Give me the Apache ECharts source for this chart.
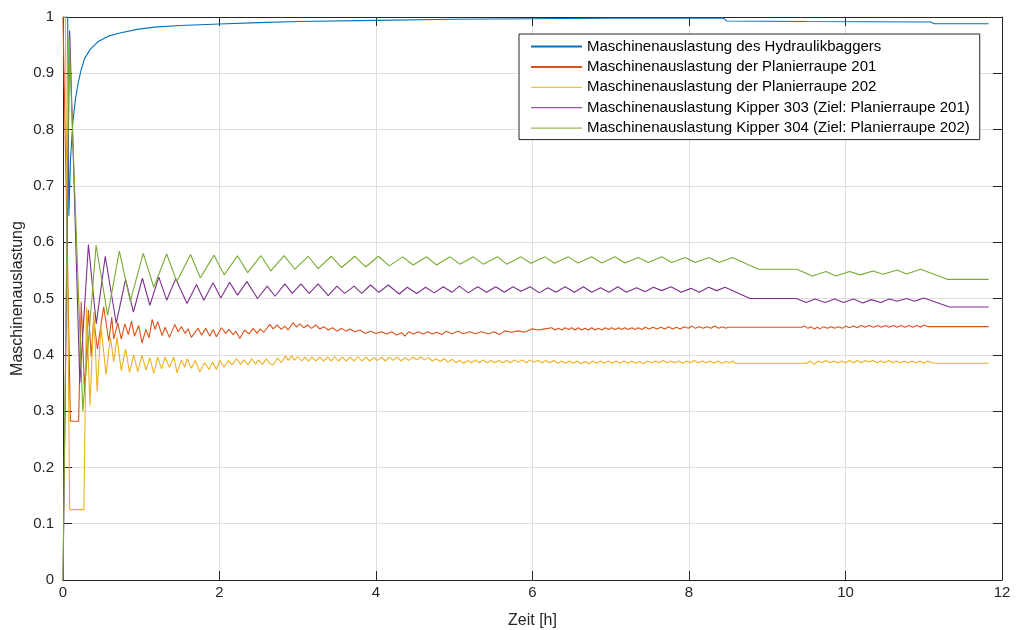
<!DOCTYPE html>
<html>
<head>
<meta charset="utf-8">
<script src="https://cdn.jsdelivr.net/npm/echarts@6/dist/echarts.min.js"></script>
<style>
html,body{margin:0;padding:0;background:#fff;}
#chart{width:1017px;height:630px;}
</style>
</head>
<body>
<div id="chart"></div>
<script>
// ---- data (hours, utilisation) ----
var seriesNames = [
  'Maschinenauslastung des Hydraulikbaggers',
  'Maschinenauslastung der Planierraupe 201',
  'Maschinenauslastung der Planierraupe 202',
  'Maschinenauslastung Kipper 303 (Ziel: Planierraupe 201)',
  'Maschinenauslastung Kipper 304 (Ziel: Planierraupe 202)'
];
var xTicks = [0, 2, 4, 6, 8, 10, 12];
var yTicks = [0, 0.1, 0.2, 0.3, 0.4, 0.5, 0.6, 0.7, 0.8, 0.9, 1];

var bagger = [[0,1],[0.06,1],[0.075,0.647],[0.097,0.75],[0.127,0.815],[0.16,0.855],[0.19,0.88],[0.23,0.905],[0.275,0.926],[0.35,0.943],[0.445,0.956],[0.58,0.966],[0.74,0.972],[0.95,0.978],[1.165,0.982],[1.5,0.985],[2.0,0.9875],[2.5,0.99],[3.0,0.992],[4.0,0.994],[5.0,0.996],[6.0,0.997],[7.0,0.998],[8.44,0.998],[8.48,0.993],[9.5,0.992],[11.09,0.991],[11.13,0.988],[11.83,0.988]];

var raupe201 = [[0,1],[0.025,1],[0.095,0.282],[0.2,0.282],[0.233,0.494],[0.275,0.335],[0.325,0.48],[0.36,0.397],[0.393,0.463],[0.44,0.41],[0.52,0.485],[0.585,0.424],[0.623,0.467],[0.648,0.428],[0.70,0.457],[0.745,0.428],[0.79,0.455],[0.835,0.436],[0.875,0.46],[0.913,0.433],[0.968,0.452],[1.01,0.421],[1.06,0.445],[1.10,0.43],[1.14,0.463],[1.176,0.445],[1.21,0.459],[1.266,0.434],[1.305,0.449],[1.36,0.431],[1.43,0.454],[1.47,0.441],[1.514,0.45],[1.56,0.438],[1.60,0.446],[1.64,0.431],[1.726,0.447],[1.77,0.435],[1.825,0.447],[1.876,0.433],[1.918,0.445],[1.96,0.432],[2.025,0.448],[2.08,0.438],[2.12,0.445],[2.175,0.436],[2.21,0.442],[2.26,0.429],[2.32,0.444],[2.375,0.437],[2.43,0.447],[2.48,0.438],[2.52,0.446],[2.566,0.44],[2.643,0.454],[2.686,0.446],[2.737,0.453],[2.79,0.445],[2.835,0.451],[2.878,0.444],[2.94,0.457],[2.985,0.449],[3.027,0.455],[3.078,0.448],[3.125,0.453],[3.176,0.447],[3.23,0.453],[3.28,0.446],[3.334,0.45],[3.39,0.444],[3.445,0.448],[3.50,0.442],[3.56,0.447],[3.615,0.442],[3.666,0.446],[3.73,0.441],[3.794,0.444],[3.858,0.438],[3.93,0.442],[4.0,0.438],[4.07,0.441],[4.136,0.437],[4.2,0.441],[4.263,0.435],[4.33,0.439],[4.37,0.433],[4.42,0.441],[4.476,0.437],[4.54,0.441],[4.6,0.437],[4.66,0.441],[4.72,0.437],[4.775,0.44],[4.84,0.436],[4.90,0.442],[4.967,0.4375],[5.05,0.442],[5.115,0.4375],[5.20,0.441],[5.265,0.4375],[5.35,0.441],[5.435,0.4375],[5.51,0.441],[5.575,0.436],[5.648,0.4425],[5.73,0.44],[5.82,0.4425],[5.895,0.44],[5.99,0.446],[6.074,0.444],[6.16,0.446],[6.245,0.448],[6.29,0.444],[6.33,0.447],[6.375,0.444],[6.415,0.448],[6.46,0.445],[6.50,0.448],[6.545,0.444],[6.585,0.448],[6.63,0.444],[6.67,0.447],[6.715,0.444],[6.757,0.448],[6.80,0.444],[6.84,0.447],[6.885,0.444],[6.93,0.448],[6.97,0.445],[7.01,0.448],[7.055,0.445],[7.10,0.448],[7.14,0.445],[7.18,0.448],[7.225,0.445],[7.27,0.448],[7.31,0.445],[7.35,0.448],[7.40,0.445],[7.44,0.449],[7.49,0.446],[7.54,0.449],[7.59,0.446],[7.64,0.449],[7.69,0.446],[7.74,0.45],[7.79,0.446],[7.84,0.449],[7.886,0.446],[7.94,0.45],[7.99,0.447],[8.036,0.451],[8.08,0.447],[8.13,0.45],[8.18,0.447],[8.23,0.45],[8.28,0.447],[8.33,0.451],[8.376,0.447],[8.43,0.45],[8.47,0.447],[8.50,0.449],[9.44,0.449],[9.48,0.451],[9.52,0.447],[9.56,0.45],[9.60,0.446],[9.64,0.449],[9.675,0.446],[9.72,0.45],[9.77,0.447],[9.82,0.45],[9.86,0.447],[9.91,0.45],[9.96,0.447],[10.0,0.451],[10.05,0.448],[10.10,0.451],[10.15,0.448],[10.20,0.452],[10.25,0.449],[10.30,0.452],[10.36,0.449],[10.41,0.452],[10.46,0.449],[10.51,0.452],[10.56,0.449],[10.61,0.452],[10.66,0.449],[10.71,0.452],[10.76,0.449],[10.81,0.452],[10.86,0.449],[10.91,0.452],[10.96,0.449],[11.0,0.453],[11.06,0.45],[11.83,0.45]];

var raupe202 = [[0,1],[0.03,1],[0.085,0.125],[0.267,0.125],[0.30,0.485],[0.345,0.31],[0.394,0.476],[0.436,0.335],[0.486,0.45],[0.55,0.365],[0.606,0.431],[0.648,0.388],[0.69,0.431],[0.745,0.372],[0.80,0.41],[0.85,0.369],[0.904,0.40],[0.955,0.37],[1.01,0.399],[1.06,0.373],[1.11,0.395],[1.16,0.367],[1.21,0.396],[1.26,0.375],[1.305,0.396],[1.36,0.378],[1.416,0.396],[1.458,0.368],[1.514,0.391],[1.556,0.378],[1.586,0.393],[1.64,0.376],[1.69,0.39],[1.748,0.37],[1.81,0.386],[1.867,0.374],[1.91,0.387],[1.96,0.374],[2.004,0.39],[2.06,0.378],[2.11,0.39],[2.16,0.382],[2.217,0.393],[2.27,0.383],[2.31,0.391],[2.366,0.382],[2.41,0.393],[2.46,0.384],[2.50,0.391],[2.55,0.383],[2.60,0.393],[2.643,0.384],[2.686,0.382],[2.74,0.394],[2.79,0.386],[2.84,0.398],[2.88,0.39],[2.92,0.398],[2.96,0.39],[3.0,0.397],[3.05,0.389],[3.09,0.396],[3.14,0.389],[3.18,0.396],[3.23,0.389],[3.28,0.396],[3.33,0.389],[3.38,0.396],[3.43,0.389],[3.47,0.397],[3.52,0.389],[3.57,0.396],[3.62,0.389],[3.67,0.396],[3.72,0.389],[3.77,0.397],[3.82,0.389],[3.87,0.396],[3.92,0.389],[3.97,0.395],[4.02,0.39],[4.07,0.396],[4.12,0.389],[4.17,0.396],[4.22,0.39],[4.27,0.396],[4.32,0.389],[4.37,0.395],[4.42,0.39],[4.47,0.396],[4.52,0.391],[4.57,0.396],[4.62,0.391],[4.67,0.395],[4.72,0.389],[4.77,0.393],[4.82,0.388],[4.87,0.393],[4.92,0.387],[4.97,0.392],[5.02,0.386],[5.07,0.39],[5.12,0.385],[5.17,0.39],[5.22,0.386],[5.27,0.391],[5.32,0.386],[5.37,0.391],[5.42,0.386],[5.47,0.39],[5.52,0.386],[5.57,0.39],[5.62,0.386],[5.67,0.39],[5.72,0.386],[5.77,0.391],[5.82,0.387],[5.87,0.391],[5.92,0.386],[5.97,0.391],[6.02,0.387],[6.07,0.39],[6.12,0.386],[6.17,0.39],[6.22,0.386],[6.27,0.39],[6.32,0.385],[6.37,0.389],[6.42,0.385],[6.47,0.389],[6.52,0.385],[6.57,0.389],[6.62,0.384],[6.67,0.388],[6.72,0.384],[6.77,0.389],[6.82,0.385],[6.87,0.389],[6.92,0.385],[6.97,0.389],[7.02,0.385],[7.07,0.389],[7.12,0.385],[7.17,0.389],[7.22,0.385],[7.27,0.389],[7.32,0.385],[7.37,0.388],[7.42,0.384],[7.47,0.389],[7.52,0.386],[7.57,0.389],[7.62,0.386],[7.67,0.39],[7.72,0.386],[7.77,0.389],[7.82,0.386],[7.87,0.389],[7.92,0.385],[7.97,0.389],[8.02,0.386],[8.07,0.39],[8.12,0.386],[8.17,0.389],[8.22,0.386],[8.27,0.389],[8.32,0.385],[8.37,0.389],[8.42,0.385],[8.47,0.388],[8.52,0.386],[8.56,0.389],[8.59,0.385],[9.5,0.385],[9.55,0.389],[9.60,0.383],[9.65,0.389],[9.70,0.386],[9.75,0.39],[9.80,0.386],[9.85,0.389],[9.90,0.386],[9.95,0.389],[10.0,0.386],[10.05,0.39],[10.10,0.386],[10.15,0.39],[10.20,0.386],[10.25,0.39],[10.30,0.387],[10.35,0.39],[10.40,0.386],[10.45,0.389],[10.50,0.386],[10.55,0.39],[10.60,0.386],[10.65,0.389],[10.70,0.386],[10.75,0.389],[10.80,0.386],[10.85,0.389],[10.90,0.386],[10.95,0.389],[11.0,0.385],[11.05,0.389],[11.1,0.386],[11.16,0.385],[11.83,0.385]];

var kipper303 = [[0,0],[0.085,0.976],[0.215,0.35],[0.325,0.596],[0.425,0.455],[0.54,0.575],[0.68,0.456],[0.80,0.534],[0.90,0.476],[1.015,0.536],[1.11,0.488],[1.225,0.538],[1.325,0.497],[1.44,0.535],[1.585,0.491],[1.706,0.525],[1.80,0.497],[1.918,0.528],[2.017,0.501],[2.13,0.529],[2.23,0.506],[2.35,0.53],[2.486,0.5],[2.61,0.522],[2.71,0.504],[2.835,0.526],[2.93,0.509],[3.04,0.526],[3.146,0.509],[3.26,0.526],[3.39,0.505],[3.50,0.522],[3.60,0.509],[3.72,0.522],[3.816,0.509],[3.93,0.524],[4.037,0.511],[4.156,0.524],[4.297,0.508],[4.40,0.52],[4.52,0.509],[4.634,0.52],[4.745,0.51],[4.86,0.521],[4.97,0.511],[5.065,0.522],[5.18,0.51],[5.30,0.521],[5.414,0.511],[5.53,0.521],[5.64,0.511],[5.75,0.521],[5.853,0.513],[5.97,0.521],[6.087,0.51],[6.195,0.519],[6.30,0.511],[6.416,0.521],[6.535,0.511],[6.65,0.521],[6.757,0.511],[6.87,0.519],[6.978,0.511],[7.09,0.521],[7.20,0.511],[7.33,0.519],[7.44,0.512],[7.545,0.52],[7.65,0.514],[7.77,0.521],[7.90,0.511],[8.027,0.518],[8.13,0.511],[8.25,0.52],[8.355,0.514],[8.46,0.52],[8.78,0.5],[9.37,0.5],[9.50,0.493],[9.61,0.499],[9.74,0.493],[9.86,0.499],[9.975,0.493],[10.10,0.499],[10.22,0.492],[10.33,0.498],[10.45,0.493],[10.56,0.499],[10.66,0.495],[10.78,0.5],[10.88,0.495],[11.0,0.501],[11.33,0.485],[11.83,0.485]];

var kipper304 = [[0,0],[0.078,0.965],[0.253,0.3],[0.423,0.595],[0.57,0.47],[0.72,0.584],[0.86,0.495],[1.025,0.58],[1.16,0.52],[1.325,0.579],[1.455,0.53],[1.63,0.578],[1.755,0.537],[1.93,0.577],[2.06,0.542],[2.23,0.576],[2.36,0.546],[2.53,0.576],[2.656,0.549],[2.826,0.576],[2.963,0.552],[3.133,0.575],[3.26,0.553],[3.43,0.575],[3.56,0.555],[3.73,0.575],[3.867,0.556],[4.03,0.575],[4.17,0.558],[4.34,0.574],[4.476,0.5595],[4.647,0.574],[4.775,0.5595],[4.945,0.574],[5.073,0.561],[5.243,0.574],[5.37,0.561],[5.555,0.574],[5.67,0.561],[5.853,0.574],[5.98,0.5625],[6.16,0.574],[6.28,0.5625],[6.46,0.574],[6.58,0.563],[6.757,0.574],[6.885,0.563],[7.055,0.574],[7.183,0.563],[7.353,0.573],[7.48,0.564],[7.652,0.574],[7.78,0.564],[7.95,0.573],[8.08,0.564],[8.257,0.573],[8.385,0.564],[8.555,0.573],[8.887,0.552],[9.378,0.552],[9.578,0.54],[9.75,0.548],[9.877,0.54],[10.05,0.548],[10.19,0.542],[10.35,0.549],[10.48,0.543],[10.66,0.5505],[10.78,0.5435],[10.96,0.552],[11.30,0.534],[11.83,0.534]];

var colors = ['#0072BD', '#D95319', '#EDB120', '#7E2F8E', '#77AC30'];
var seriesData = [bagger, raupe201, raupe202, kipper303, kipper304];

var FONT = '"Liberation Sans", Arial, Helvetica, sans-serif';
var AX = '#262626';

var chart = echarts.init(document.getElementById('chart'), null, {renderer: 'canvas'});

function axisCommon(extra) {
  var base = {
    type: 'value',
    axisLine: {show: true, onZero: false, lineStyle: {color: AX, width: 1}},
    axisTick: {show: true, inside: true, length: 9, lineStyle: {color: AX, width: 1}},
    splitLine: {show: false},
    axisLabel: {show: false}
  };
  for (var k in extra) base[k] = extra[k];
  return base;
}

var option = {
  animation: false,
  backgroundColor: '#fff',
  grid: {left: 63, right: 15, top: 17, bottom: 50, containLabel: false, outerBoundsMode: 'none'},
  xAxis: [
    axisCommon({
      min: xTicks[0], max: xTicks[xTicks.length - 1], interval: 2,
      position: 'bottom',
      name: 'Zeit [h]', nameLocation: 'middle', nameGap: 33, nameMoveOverlap: false,
      nameTextStyle: {fontFamily: FONT, fontSize: 16, color: AX},
      axisLabel: {show: true, fontFamily: FONT, fontSize: 15, color: AX, margin: 5},
      splitLine: {show: true, lineStyle: {color: '#dedede', width: 1}}
    }),
    axisCommon({min: xTicks[0], max: xTicks[xTicks.length - 1], interval: 2, position: 'top'})
  ],
  yAxis: [
    axisCommon({
      min: yTicks[0], max: yTicks[yTicks.length - 1], interval: 0.1,
      position: 'left',
      name: 'Maschinenauslastung', nameLocation: 'middle', nameGap: 37, nameMoveOverlap: false,
      nameTextStyle: {fontFamily: FONT, fontSize: 16, color: AX},
      axisLabel: {show: true, fontFamily: FONT, fontSize: 15, color: AX, margin: 9},
      splitLine: {show: true, lineStyle: {color: '#dedede', width: 1}}
    }),
    axisCommon({min: yTicks[0], max: yTicks[yTicks.length - 1], interval: 0.1, position: 'right'})
  ],
  legend: {
    show: true,
    orient: 'vertical',
    left: 519, top: 34,
    backgroundColor: '#fff',
    borderColor: AX, borderWidth: 1, borderRadius: 0,
    padding: [5, 10, 4, 11],
    itemWidth: 51, itemHeight: 14, itemGap: 5.4,
    itemStyle: {opacity: 0},
    textStyle: {fontFamily: FONT, fontSize: 15, color: '#000', padding: [0, 0, 0, 0]},
    data: seriesNames.map(function (n, i) {
      return {name: n, itemStyle: {opacity: 0}, lineStyle: {width: i < 2 ? 2 : 1}};
    })
  },
  series: seriesNames.map(function (n, i) {
    return {
      name: n,
      type: 'line',
      xAxisIndex: 0, yAxisIndex: 0,
      data: seriesData[i],
      symbol: 'none',
      showSymbol: false,
      smooth: false,
      clip: true,
      color: colors[i],
      lineStyle: {color: colors[i], width: 1.1},
      z: 2 + i
    };
  })
};
chart.setOption(option);
</script>
</body>
</html>
